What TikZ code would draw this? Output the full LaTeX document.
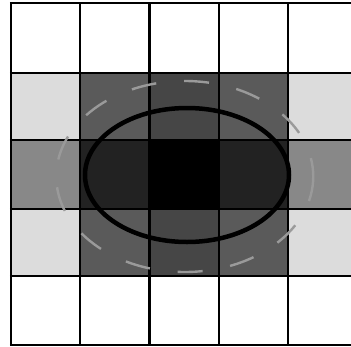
\documentclass[tikz,border=0pt]{standalone}
\definecolor{ltcell}{HTML}{DCDCDC}
\definecolor{mdcell}{HTML}{5A5A5A}
\definecolor{dkcell}{HTML}{464646}
\definecolor{sdcell}{HTML}{888888}
\definecolor{incell}{HTML}{222222}
\definecolor{dashgray}{HTML}{9A9A9A}
\begin{document}
\begin{tikzpicture}[x=1pt,y=-1pt,
  gridline/.style={line width=2.3pt,black},
  bigring/.style={line width=4.5pt,black},
  dashring/.style={line width=2.4pt,dashgray,dash pattern=on 25pt off 28pt}]
\useasboundingbox (0,0) rectangle (351,346);
\fill[white] (0,0) rectangle (351,346);
\begin{scope}
\clip (0,0) rectangle (351,346);
% row 2
\fill[ltcell] (11,73) rectangle (80.25,140);
\fill[mdcell] (80.25,73) rectangle (149.5,140);
\fill[dkcell] (149.5,73) rectangle (218.75,140);
\fill[mdcell] (218.75,73) rectangle (288,140);
\fill[ltcell] (288,73) rectangle (360,140);
% row 3
\fill[sdcell] (11,140) rectangle (80.25,209);
\fill[incell] (80.25,140) rectangle (149.5,209);
\fill[black] (149.5,140) rectangle (218.75,209);
\fill[incell] (218.75,140) rectangle (288,209);
\fill[sdcell] (288,140) rectangle (360,209);
% row 4
\fill[ltcell] (11,209) rectangle (80.25,276);
\fill[mdcell] (80.25,209) rectangle (149.5,276);
\fill[dkcell] (149.5,209) rectangle (218.75,276);
\fill[mdcell] (218.75,209) rectangle (288,276);
\fill[ltcell] (288,209) rectangle (360,276);
% grid
\foreach \gx in {11,80.25,149.5,218.75,288}
  \draw[gridline] (\gx,3) -- (\gx,345);
\foreach \gy in {3,73,140,209,276,345}
  \draw[gridline] (9.85,\gy) -- (360,\gy);
% ellipses
\draw[dashring] (184.75,176.5) ellipse [x radius=128.5, y radius=95.5];
\draw[bigring] (187,175) ellipse [x radius=102, y radius=67];
\end{scope}
\end{tikzpicture}
\end{document}
